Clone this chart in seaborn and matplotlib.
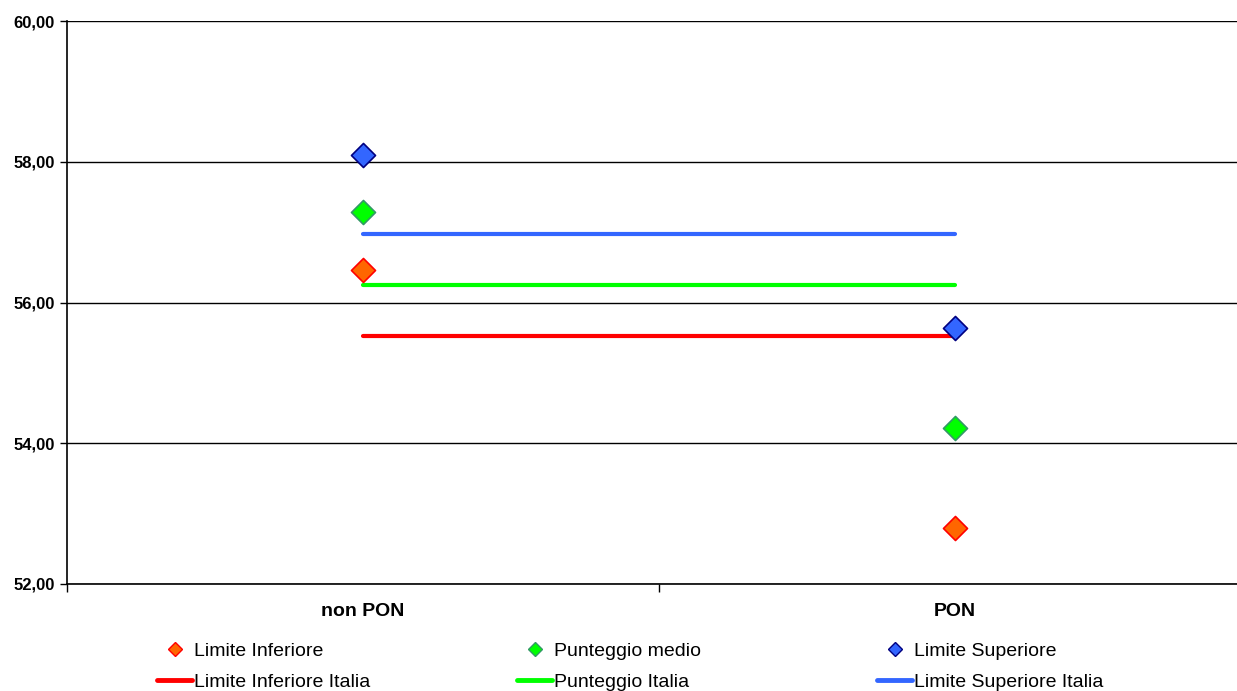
import numpy as np
import pandas as pd
import matplotlib
matplotlib.use("Agg")
import matplotlib.pyplot as plt
from matplotlib.lines import Line2D
from matplotlib.ticker import FuncFormatter, FixedLocator
import seaborn as sns

# Data
categories = ["non PON", "PON"]
limite_inferiore = [56.46, 52.80]
punteggio_medio = [57.28, 54.22]
limite_superiore = [58.10, 55.64]
limite_inferiore_italia = 55.53
punteggio_italia = 56.25
limite_superiore_italia = 56.98
y_ticks = [52, 54, 56, 58, 60]

sns.set_style("white")
plt.rcParams["font.family"] = ["Liberation Sans", "DejaVu Sans"]
plt.rcParams["text.color"] = "black"
plt.rcParams["xtick.color"] = "black"
plt.rcParams["ytick.color"] = "black"

fig = plt.figure(figsize=(12.37, 6.91), dpi=100)
ax = fig.add_axes([67 / 1237, 107 / 691, 1184 / 1237, 563 / 691])

xpos = np.arange(len(categories))

# Italia reference lines spanning the categories
lines = [
    ("Limite Inferiore Italia", limite_inferiore_italia, "#FF0000"),
    ("Punteggio Italia", punteggio_italia, "#00FF00"),
    ("Limite Superiore Italia", limite_superiore_italia, "#3366FF"),
]
for name, val, col in lines:
    df_line = pd.DataFrame({"x": xpos, "y": [val] * len(xpos)})
    sns.lineplot(data=df_line, x="x", y="y", color=col, linewidth=3,
                 ax=ax, zorder=3, legend=False)

# School group points
points = [
    ("Limite Inferiore", limite_inferiore, "#FF6600", "#FF0000"),
    ("Punteggio medio", punteggio_medio, "#00FF00", "#339966"),
    ("Limite Superiore", limite_superiore, "#3366FF", "#000080"),
]
for name, vals, face, edge in points:
    df_pt = pd.DataFrame({"x": xpos, "y": vals})
    sns.scatterplot(data=df_pt, x="x", y="y", marker="D", s=150,
                    color=face, edgecolor=edge, linewidth=1.2,
                    ax=ax, zorder=4, legend=False)

ax.set_xlim(-0.5, 1.5)
ax.set_ylim(52, 60)
ax.set_yticks(y_ticks)
ax.yaxis.set_major_formatter(FuncFormatter(lambda v, p: f"{v:.2f}".replace(".", ",")))
ax.set_xticks(xpos)
ax.set_xticklabels(categories, fontsize=14, fontweight="bold")
ax.xaxis.set_minor_locator(FixedLocator([-0.5, 0.5, 1.5]))
ax.tick_params(axis="x", which="major", length=0, pad=14)
ax.tick_params(axis="x", which="minor", length=6, width=1, color="black", direction="out", bottom=True)
ax.tick_params(axis="y", length=5, width=1, color="black", direction="out", left=True,
               labelsize=12, pad=4)
for lab in ax.get_yticklabels():
    lab.set_fontweight("bold")

ax.grid(axis="y", color="black", linewidth=1)
ax.set_axisbelow(True)
for side in ["top", "right"]:
    ax.spines[side].set_visible(False)
for side in ["left", "bottom"]:
    ax.spines[side].set_color("black")
    ax.spines[side].set_linewidth(1.2)
ax.set_xlabel("")
ax.set_ylabel("")

# Legend: one block per series pair, marker on top, Italia line below
col_x = [157, 517, 877]
for (pname, _, face, edge), (lname, _, lcol), x0 in zip(points, lines, col_x):
    hs = [
        Line2D([], [], linestyle="none", marker="D", markersize=7,
               markerfacecolor=face, markeredgecolor=edge, label=pname),
        Line2D([], [], color=lcol, linewidth=3.5, label=lname),
    ]
    fig.legend(handles=hs, loc="center left",
               bbox_to_anchor=(x0 / 1237, 24.5 / 691), frameon=False,
               fontsize=14, handlelength=1.8, handletextpad=0.1,
               labelspacing=0.72, borderpad=0, borderaxespad=0)

fig.savefig("out.png", dpi=100)
